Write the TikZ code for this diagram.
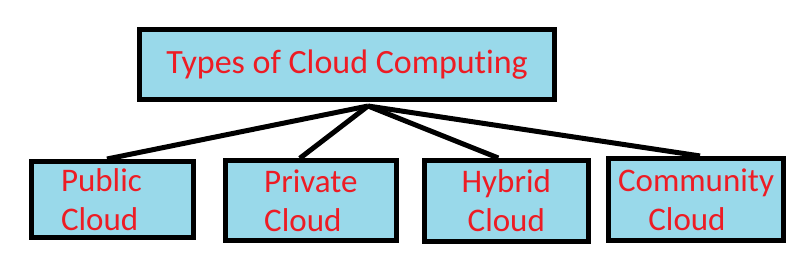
\documentclass[tikz,border=0pt]{standalone}
\usepackage{fontspec}
\setmainfont{Carlito}[Ligatures=NoCommon]
\usetikzlibrary{calc}
\definecolor{cbox}{HTML}{99D9EA}
\definecolor{cred}{HTML}{ED1C24}

\begin{document}
\begin{tikzpicture}[
  x=1pt, y=-1pt,
  topbox/.style={
    rectangle, draw=black, fill=cbox, line width=5pt,
    minimum width=414.7pt, minimum height=69.4pt, inner sep=0pt,
    text=cred, font=\fontsize{34}{39}\selectfont
  },
  kindbox/.style={
    rectangle, draw=black, fill=cbox, line width=5pt, inner sep=0pt,
    text=cred, font=\fontsize{33}{39}\selectfont
  },
  link/.style={draw=black, line width=5pt}
]
\useasboundingbox (0,0) rectangle (806,267);

% ============================================================
% Root box
\node[topbox] (root) at (347.2, 64.5) {Types of Cloud Computing};
\coordinate (hub) at (368, 106);

% ============================================================
% Four kinds of cloud
\node[kindbox, minimum width=161.4pt, minimum height=76pt,
      text width=103pt, align=left] (pub) at (112.5, 199.5) {Public\\Cloud};
\node[kindbox, minimum width=171.3pt, minimum height=79.4pt,
      align=left] (priv) at (310.8, 200.5) {Private\\Cloud};
\node[kindbox, minimum width=163.7pt, minimum height=81pt,
      align=center] (hyb) at (506.3, 201) {Hybrid\\Cloud};
\node[kindbox, minimum width=175pt, minimum height=81.7pt,
      align=center] (com) at (696, 199.3) {Community\\Cloud\hspace*{18pt}};

% Links from the root to each kind
\draw[link] (hub) -- ($(pub.north)+(-5.5,0)$);
\draw[link] (hub) -- ($(priv.north)+(-11,0)$);
\draw[link] (hub) -- ($(hyb.north)+(-8,0)$);
\draw[link] (hub) -- ($(com.north)+(4,0)$);

\end{tikzpicture}
\end{document}
